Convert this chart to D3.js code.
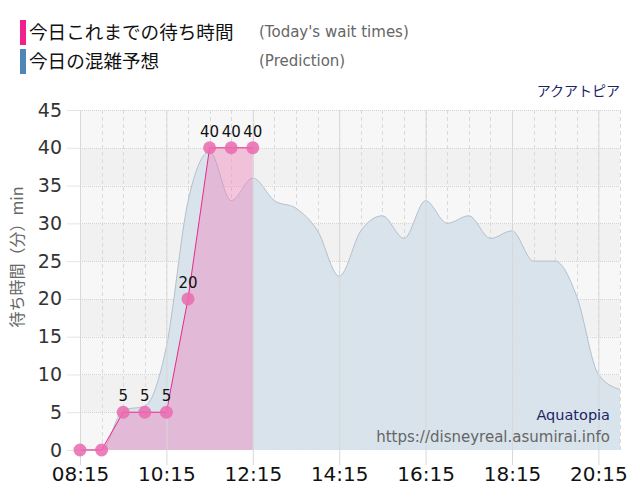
<!DOCTYPE html>
<html>
<head>
<meta charset="utf-8">
<script src="https://cdn.jsdelivr.net/npm/d3@7"></script>
<style>
body { margin: 0; background: #fff; }
</style>
</head>
<body>
<script>
// data
var predTimes = ["08:15","08:45","09:15","09:45","10:15","10:45","11:15","11:45","12:15","12:45",
	"13:15","13:45","14:15","14:45","15:15","15:45","16:15","16:45","17:15","17:45",
	"18:15","18:45","19:15","19:45","20:15","20:45"];
var predValues = [0,0,5.3,5.8,13.7,32.9,39.5,33,36,33,
	32,29,23,29,31,28,33,30,31,28,
	29,25,25,20.3,10,8];
var waitTimes = ["08:15","08:45","09:15","09:45","10:15","10:45","11:15","11:45","12:15"];
var waitValues = [0,0,5,5,5,20,40,40,40];
var xTickLabels = ["08:15","10:15","12:15","14:15","16:15","18:15","20:15"];
var yTicks = [0,5,10,15,20,25,30,35,40,45];

function toMin(s) {
	var p = s.split(":");
	return +p[0] * 60 + +p[1];
}

function translate(x, y) {
	return "translate(" + x + "," + y + ")";
}

// dimensions
var width = 640, height = 500,
	plotLeft = 80, plotTop = 110, plotRight = 620, plotBottom = 450;

var numFont = "'DejaVu Sans', Verdana, sans-serif",
	jpFont = "'Noto Sans CJK JP', sans-serif";

var x = d3.scaleLinear()
	.domain([toMin("08:15"), toMin("20:45")])
	.range([plotLeft, plotRight]);

var y = d3.scaleLinear()
	.domain([0, 45])
	.range([plotBottom, plotTop]);

var svg = d3.select("body").append("svg")
	.attr("width", width)
	.attr("height", height);

// background bands
var bands = d3.range(0, 45, 5);
svg.append("g").selectAll("rect")
	.data(bands)
	.enter()
	.append("rect")
	.attr("x", plotLeft)
	.attr("width", plotRight - plotLeft)
	.attr("y", function (d) { return y(d + 5); })
	.attr("height", function (d) { return y(d) - y(d + 5); })
	.attr("fill", function (d) { return (d / 5) % 2 === 0 ? "#f7f7f7" : "#f1f1f1"; });

// vertical grid every 30 min
var halfHours = d3.range(toMin("08:45"), toMin("20:45") + 1, 30);
svg.append("g").selectAll("line")
	.data(halfHours)
	.enter()
	.append("line")
	.attr("x1", function (d) { return Math.round(x(d)) + 0.5; })
	.attr("x2", function (d) { return Math.round(x(d)) + 0.5; })
	.attr("y1", plotTop)
	.attr("y2", plotBottom)
	.attr("stroke", "#dadada")
	.attr("stroke-dasharray", "4,3");

// horizontal grid
svg.append("g").selectAll("line")
	.data(yTicks.slice(1))
	.enter()
	.append("line")
	.attr("x1", plotLeft)
	.attr("x2", plotRight)
	.attr("y1", function (d) { return Math.round(y(d)) + 0.5; })
	.attr("y2", function (d) { return Math.round(y(d)) + 0.5; })
	.attr("stroke", "#d4d4d4")
	.attr("stroke-dasharray", "1,1");

// prediction area
var predData = predTimes.map(function (t, i) { return { t: toMin(t), v: predValues[i] }; });

var predArea = d3.area()
	.x(function (d) { return x(d.t); })
	.y0(y(0))
	.y1(function (d) { return y(d.v); })
	.curve(d3.curveMonotoneX);

svg.append("path")
	.datum(predData)
	.attr("d", predArea)
	.attr("fill", "#d6e1ea")
	.attr("fill-opacity", 0.95);

svg.append("path")
	.datum(predData)
	.attr("d", predArea.lineY1())
	.attr("fill", "none")
	.attr("stroke", "#b4c0cc")
	.attr("stroke-width", 1);

// wait times
var waitData = waitTimes.map(function (t, i) { return { t: toMin(t), v: waitValues[i] }; });

var waitArea = d3.area()
	.x(function (d) { return x(d.t); })
	.y0(y(0))
	.y1(function (d) { return y(d.v); });

svg.append("path")
	.datum(waitData)
	.attr("d", waitArea)
	.attr("fill", "#f27ab8")
	.attr("fill-opacity", 0.4);

svg.append("path")
	.datum(waitData)
	.attr("d", waitArea.lineY1())
	.attr("fill", "none")
	.attr("stroke", "#e8288a")
	.attr("stroke-width", 1);

// axes
var yAxis = d3.axisLeft(y)
	.tickValues(yTicks)
	.tickSize(13)
	.tickPadding(5);

var yg = svg.append("g")
	.attr("transform", translate(plotLeft, 0))
	.call(yAxis);
yg.select(".domain").attr("stroke", "#b8b8c0");
yg.selectAll(".tick line").attr("stroke", "#e4e4e4");
yg.selectAll(".tick text")
	.attr("font-family", numFont)
	.attr("font-size", "19px")
	.attr("fill", "#333");

var xAxis = d3.axisBottom(x)
	.tickValues(xTickLabels.map(toMin))
	.tickFormat(function (d, i) { return xTickLabels[i]; })
	.tickSize(15)
	.tickPadding(2);

var xg = svg.append("g")
	.attr("transform", translate(0, plotBottom))
	.call(xAxis);
xg.select(".domain").remove();
xg.selectAll(".tick line")
	.attr("stroke", "#d8d8d8")
	.attr("y1", -(plotBottom - plotTop));
xg.selectAll(".tick text")
	.attr("font-family", numFont)
	.attr("font-size", "20px")
	.attr("fill", "#111");

// markers
svg.append("g").selectAll("circle")
	.data(waitData)
	.enter()
	.append("circle")
	.attr("cx", function (d) { return x(d.t); })
	.attr("cy", function (d) { return y(d.v); })
	.attr("r", 6.5)
	.attr("fill", "#ea6aaf")
	.attr("fill-opacity", 0.85);

svg.append("g").selectAll("text")
	.data(waitData.filter(function (d) { return d.v > 0; }))
	.enter()
	.append("text")
	.text(function (d) { return d.v; })
	.attr("x", function (d) { return x(d.t); })
	.attr("y", function (d) { return y(d.v) - 11; })
	.attr("text-anchor", "middle")
	.attr("font-family", numFont)
	.attr("font-size", "15px")
	.attr("fill", "#111");

// y axis title
svg.append("text")
	.text("待ち時間（分）min")
	.attr("transform", translate(23, 257) + " rotate(-90)")
	.attr("text-anchor", "middle")
	.attr("font-family", jpFont)
	.attr("font-size", "16px")
	.attr("fill", "#666");

// legend
var legend = [
	{ color: "#f0208f", jp: "今日これまでの待ち時間", en: "(Today's wait times)" },
	{ color: "#4f86b6", jp: "今日の混雑予想", en: "(Prediction)" }
];

var lg = svg.selectAll("g.legend")
	.data(legend)
	.enter()
	.append("g")
	.attr("transform", function (d, i) { return translate(0, 20 + i * 29); });

lg.append("rect")
	.attr("x", 20)
	.attr("y", 0)
	.attr("width", 6)
	.attr("height", 25)
	.attr("fill", function (d) { return d.color; });

lg.append("text")
	.text(function (d) { return d.jp; })
	.attr("x", 29)
	.attr("y", 19)
	.attr("font-family", jpFont)
	.attr("font-size", "18.6px")
	.attr("fill", "#111");

lg.append("text")
	.text(function (d) { return d.en; })
	.attr("x", 259)
	.attr("y", 17)
	.attr("font-family", numFont)
	.attr("font-size", "15px")
	.attr("fill", "#666");

// labels
svg.append("text")
	.text("アクアトピア")
	.attr("x", 620)
	.attr("y", 96)
	.attr("text-anchor", "end")
	.attr("font-family", jpFont)
	.attr("font-size", "14px")
	.attr("fill", "#1c2466");

svg.append("text")
	.text("Aquatopia")
	.attr("x", 610)
	.attr("y", 420)
	.attr("text-anchor", "end")
	.attr("font-family", numFont)
	.attr("font-size", "14.5px")
	.attr("fill", "#1c2466");

svg.append("text")
	.text("https://disneyreal.asumirai.info")
	.attr("x", 610)
	.attr("y", 442)
	.attr("text-anchor", "end")
	.attr("font-family", numFont)
	.attr("font-size", "15px")
	.attr("fill", "#666");
</script>
</body>
</html>
